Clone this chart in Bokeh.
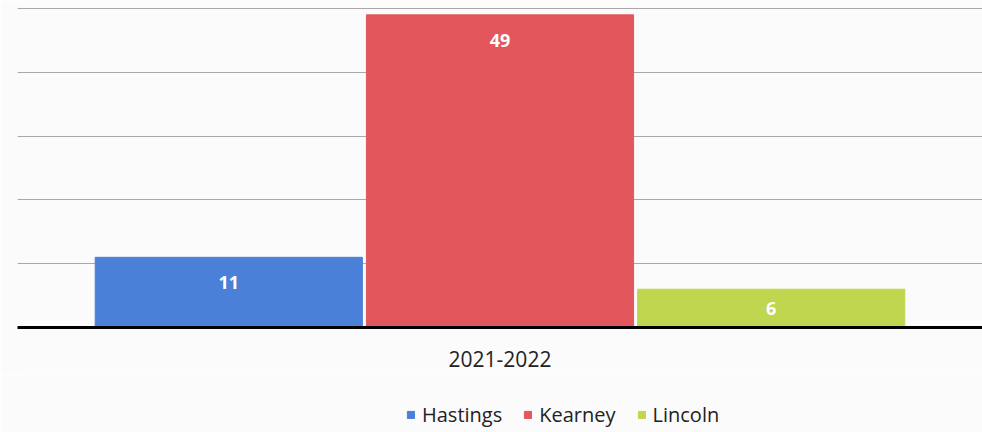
from bokeh.plotting import figure
from bokeh.layouts import column
from bokeh.models import FactorRange, ColumnDataSource, Legend, LegendItem, FixedTicker, Range1d
from bokeh.core.properties import value
from bokeh.embed import file_html
from bokeh.resources import INLINE

period = "2021-2022"
series = ["Hastings", "Kearney", "Lincoln"]
counts = [11, 49, 6]
colors = ["#4a80d8", "#e2565c", "#c0d64e"]
y_ticks = [0, 10, 20, 30, 40, 50]

factors = [(period, s) for s in series]
label_y = [v - min(4.0, v / 2) for v in counts]
src = ColumnDataSource(dict(x=factors, top=counts, color=colors, name=series,
                            label=[str(v) for v in counts], ly=label_y))

BG = "#fbfbfb"

p = figure(width=982, height=375, output_backend="svg", toolbar_location=None,
           x_range=FactorRange(*factors, factor_padding=0.01, range_padding=0.19),
           y_range=Range1d(0, 51.25),
           min_border_left=17, min_border_right=0, min_border_top=0, min_border_bottom=48)

p.background_fill_color = BG
p.border_fill_color = BG
p.outline_line_color = None

r = p.vbar(x="x", top="top", width=0.995, color="color", source=src)

p.text(x="x", y="ly", text="label", source=src, text_align="center", text_baseline="middle",
       text_color="white", text_font=value("Open Sans"), text_font_style="bold",
       text_font_size="18px")

p.yaxis.visible = False
p.ygrid.ticker = FixedTicker(ticks=y_ticks)
p.ygrid.grid_line_color = "#a8a8a8"
p.ygrid.grid_line_width = 1
p.xgrid.visible = False

ax = p.xaxis[0]
ax.axis_line_color = "black"
ax.axis_line_width = 3
ax.major_tick_line_color = None
ax.minor_tick_line_color = None
ax.major_label_text_font_size = "2px"
ax.major_label_text_alpha = 0
ax.group_text_font_size = "21px"
ax.group_text_font = "Open Sans"
ax.group_text_color = "#222222"
ax.group_text_font_style = "normal"
ax.major_label_standoff = 17

# legend strip below the chart
lg = figure(width=982, height=57, output_backend="svg", toolbar_location=None,
            x_range=FactorRange(*factors), y_range=Range1d(1000, 1001),
            min_border_left=0, min_border_right=0, min_border_top=0, min_border_bottom=0)
lg.background_fill_color = BG
lg.border_fill_color = BG
lg.outline_line_color = None
lg.axis.visible = False
lg.grid.visible = False
r2 = lg.vbar(x="x", top="top", width=0.9, color="color", source=src)

items = [LegendItem(label=s, renderers=[r2], index=i) for i, s in enumerate(series)]
legend = Legend(items=items, orientation="horizontal", location=(389, 4),
                glyph_width=9, glyph_height=9, label_text_font="Open Sans",
                label_text_font_size="20px", label_text_color="#222222",
                spacing=21, label_standoff=7, background_fill_alpha=0,
                border_line_color=None, padding=4, margin=0)
lg.add_layout(legend)

layout = column(p, lg, spacing=0)
open("out.html", "w").write(file_html(layout, INLINE))
